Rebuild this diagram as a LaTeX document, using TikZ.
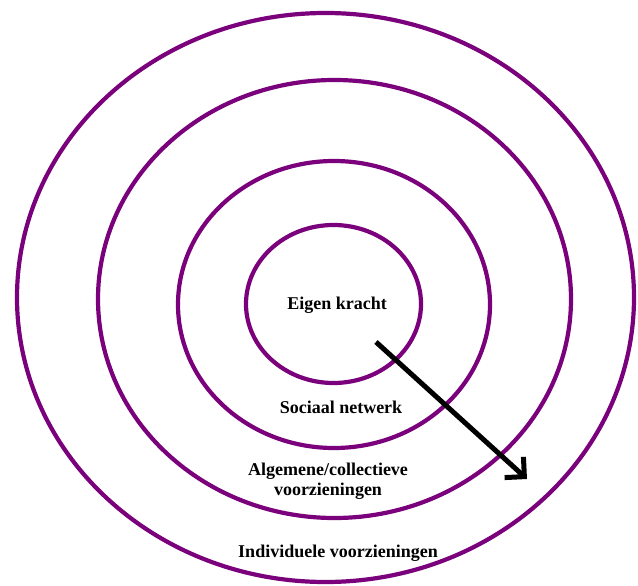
\documentclass[tikz,border=0pt]{standalone}
\usepackage{fontspec}
\setmainfont{Liberation Serif}
\usetikzlibrary{arrows.meta}
\definecolor{ringpurple}{RGB}{122,0,124}
\tikzset{
  ring/.style={draw=ringpurple, line width=4.2pt},
  lbl/.style={font=\fontsize{18}{20}\selectfont\bfseries, text=black, align=center, inner sep=0pt},
  bigarrow/.style={draw=black, line width=5pt, -{Straight Barb[length=14pt,width=28pt,line width=5pt]}}
}
\begin{document}
\begin{tikzpicture}[x=1pt,y=-1pt]
\useasboundingbox (0,0) rectangle (638,586);
\fill[white] (0,0) rectangle (638,586);
% rings
\draw[ring] (325.5,297.5) ellipse [x radius=308.5pt, y radius=284.5pt];
\draw[ring] (334.5,299) ellipse [x radius=236.5pt, y radius=219pt];
\draw[ring] (334,304.5) ellipse [x radius=156pt, y radius=143.5pt];
\draw[ring] (333.5,304) ellipse [x radius=87.5pt, y radius=79pt];
% labels
\node[lbl] (eigen) at (337,305) {Eigen kracht};
\node[lbl] (sociaal) at (341,407) {Sociaal netwerk};
\node[lbl] (algemeen) at (328,481) {Algemene/collectieve\\voorzieningen};
\node[lbl] (indiv) at (338,553) {Individuele voorzieningen};
% arrow
\coordinate (arrowstart) at (376,342);
\coordinate (arrowend) at (527,479);
\draw[bigarrow] (arrowstart) -- (arrowend);
\end{tikzpicture}
\end{document}
